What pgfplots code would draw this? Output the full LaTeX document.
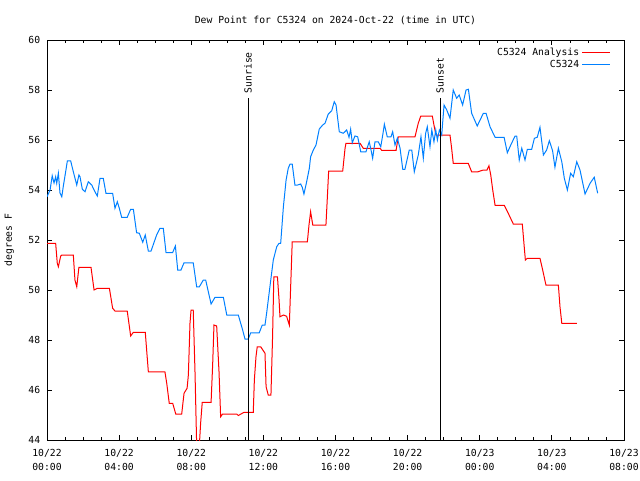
\documentclass[border=0pt]{standalone}
\usepackage{fontspec}
\setmainfont{DejaVu Sans Mono}
\usepackage{pgfplots}
\pgfplotsset{compat=1.18}
\definecolor{cred}{RGB}{255,0,0}
\definecolor{cblue}{RGB}{0,128,255}
\begin{document}
\fontsize{7.3pt}{10.5pt}\selectfont
\begin{tikzpicture}
\path[use as bounding box] (0,0) rectangle (480pt,360pt);
\begin{axis}[
  at={(35.25pt,30pt)}, anchor=south west,
  width=432.75pt, height=300pt, scale only axis,
  xmin=0, xmax=32, ymin=44, ymax=60,
  xtick={0,4,...,32}, minor x tick num=3,
  xticklabels={10/22\\00:00,10/22\\04:00,10/22\\08:00,10/22\\12:00,10/22\\16:00,10/22\\20:00,10/23\\00:00,10/23\\04:00,10/23\\08:00},
  xticklabel style={align=center, font=\fontsize{7.3pt}{10.5pt}\selectfont, yshift=-4.5pt},
  ytick={44,46,...,60},
  yticklabel style={xshift=-2.5pt},
  /pgf/number format/assume math mode=true,
  tick align=inside,
  major tick length=3.75pt, minor tick length=2pt,
  tick style={black, line width=0.6pt},
  axis line style={line width=0.75pt},
  every axis plot/.append style={line width=0.75pt},
  legend style={draw=none, fill=none, at={(0.98,0.99)}, anchor=north east, row sep=-1.5pt, inner sep=1pt},
  legend cell align=right,
  legend plot pos=right,
  legend image code/.code={\draw[#1] (0pt,0pt) -- (21pt,0pt);},
]
\addplot[cred] coordinates {
(0,51.87) (0.48,51.87) (0.57,51.07) (0.63,50.93) (0.76,51.36) (0.83,51.4) (1.46,51.4)
(1.55,50.4) (1.65,50.13) (1.77,50.91) (2.44,50.91) (2.61,50.0) (2.79,50.07) (3.46,50.07)
(3.64,49.27) (3.77,49.16) (4.45,49.16) (4.64,48.16) (4.79,48.31) (5.45,48.31) (5.62,46.73)
(6.54,46.73) (6.64,46.27) (6.78,45.47) (6.97,45.47) (7.14,45.04) (7.47,45.04) (7.60,45.87)
(7.77,46.07) (7.84,46.6) (7.93,48.67) (7.99,49.2) (8.11,49.2) (8.21,46.67) (8.30,43.8)
(8.45,43.8) (8.52,44.67) (8.61,45.51) (9.10,45.51) (9.19,47.07) (9.26,48.6) (9.41,48.56)
(9.54,46.73) (9.63,44.93) (9.74,45.04) (10.52,45.04) (10.61,44.98) (10.93,45.11) (11.44,45.11)
(11.50,46.4) (11.59,47.33) (11.66,47.73) (11.85,47.73) (12.09,47.47) (12.15,46.13) (12.27,45.8)
(12.42,45.8) (12.51,48.13) (12.58,50.53) (12.78,50.53) (12.87,49.6) (12.92,48.93) (13.11,49.0)
(13.29,48.95) (13.38,48.73) (13.44,48.6) (13.52,50.27) (13.60,51.93) (14.44,51.93) (14.53,52.6)
(14.62,53.13) (14.74,52.6) (15.47,52.6) (15.55,53.73) (15.62,54.76) (16.40,54.76) (16.53,55.67)
(16.58,55.87) (17.36,55.87) (17.54,55.67) (18.47,55.67) (18.56,55.59) (19.36,55.59) (19.48,56.13)
(20.41,56.13) (20.59,56.67) (20.73,56.96) (21.37,56.96) (21.46,56.6) (21.57,56.2) (22.35,56.2)
(22.44,55.67) (22.53,55.07) (23.36,55.07) (23.55,54.73) (23.90,54.73) (24.20,54.8) (24.40,54.8)
(24.51,54.97) (24.61,54.6) (24.72,54.0) (24.85,53.39) (25.36,53.39) (25.58,53.07) (25.86,52.64)
(26.36,52.64) (26.45,51.87) (26.53,51.2) (26.64,51.27) (27.34,51.27) (27.49,50.8) (27.67,50.2)
(28.36,50.2) (28.45,49.33) (28.55,48.67) (29.38,48.67)
};
\addlegendentry{C5324 Analysis}
\addplot[cblue] coordinates {
(0,53.73) (0.17,54.0) (0.29,54.57) (0.39,54.28) (0.48,54.53) (0.54,54.27) (0.63,54.67)
(0.72,53.88) (0.82,53.73) (0.90,54.13) (1.05,54.8) (1.13,55.17) (1.31,55.17) (1.46,54.73)
(1.65,54.2) (1.77,54.6) (1.83,54.53) (1.96,54.03) (2.11,53.93) (2.29,54.33) (2.48,54.2)
(2.66,53.93) (2.79,53.76) (2.94,54.47) (3.12,54.47) (3.27,53.87) (3.64,53.87) (3.77,53.27)
(3.90,53.53) (4.01,53.27) (4.14,52.91) (4.45,52.91) (4.64,53.23) (4.79,53.23) (4.97,52.29)
(5.12,52.27) (5.31,51.91) (5.45,52.2) (5.62,51.56) (5.77,51.56) (6.08,52.2) (6.27,52.47)
(6.45,52.47) (6.60,51.5) (6.97,51.5) (7.12,51.76) (7.25,50.8) (7.43,50.8) (7.60,51.09)
(8.11,51.09) (8.30,50.13) (8.45,50.13) (8.67,50.4) (8.80,50.4) (9.10,49.44) (9.32,49.71)
(9.78,49.71) (9.97,49.0) (10.61,49.0) (10.85,48.4) (10.98,48.04) (11.16,48.04) (11.30,48.29)
(11.77,48.29) (11.94,48.6) (12.09,48.6) (12.18,49.07) (12.41,50.4) (12.55,51.2) (12.74,51.73)
(12.87,51.87) (12.96,51.87) (13.11,53.33) (13.26,54.4) (13.38,54.87) (13.48,55.04) (13.60,55.04)
(13.75,54.2) (13.90,54.2) (14.07,54.24) (14.16,54.1) (14.25,53.84) (14.40,54.33) (14.55,54.87)
(14.62,55.33) (14.77,55.6) (14.92,55.8) (15.10,56.44) (15.29,56.6) (15.42,56.67) (15.60,57.04)
(15.79,57.17) (15.93,57.53) (16.03,57.4) (16.21,56.33) (16.43,56.27) (16.62,56.4) (16.75,56.11)
(16.84,56.43) (16.93,55.89) (17.08,56.16) (17.23,56.13) (17.40,55.53) (17.69,55.53) (17.87,55.93)
(17.97,55.6) (18.06,55.27) (18.19,55.93) (18.37,55.93) (18.51,55.73) (18.62,56.2) (18.71,56.63)
(18.87,56.13) (19.08,56.13) (19.17,56.33) (19.30,55.8) (19.43,56.07) (19.58,55.67) (19.73,54.83)
(19.85,54.83) (20.09,55.6) (20.23,55.6) (20.37,54.73) (20.59,55.4) (20.74,56.13) (20.87,55.27)
(21.00,56.27) (21.09,56.53) (21.24,55.73) (21.34,56.4) (21.46,55.93) (21.56,56.4) (21.65,56.0)
(21.76,56.4) (21.89,56.2) (22.02,57.4) (22.17,57.2) (22.35,56.87) (22.53,58.0) (22.72,57.67)
(22.86,57.8) (23.05,57.4) (23.24,58.0) (23.37,58.03) (23.55,57.07) (23.86,56.56) (24.20,57.07)
(24.35,57.07) (24.57,56.53) (24.85,56.11) (25.35,56.11) (25.53,55.49) (25.72,55.8) (25.96,56.16)
(26.05,56.16) (26.19,55.2) (26.33,55.67) (26.51,55.2) (26.64,55.63) (26.88,55.63) (27.03,56.07)
(27.19,56.11) (27.34,56.51) (27.53,55.4) (27.71,55.6) (27.86,55.97) (28.04,55.57) (28.17,54.91)
(28.36,55.67) (28.55,55.13) (28.69,54.47) (28.86,54.0) (29.04,54.67) (29.19,54.53) (29.38,55.13)
(29.56,54.8) (29.84,53.84) (30.12,54.27) (30.35,54.51) (30.54,53.87)
};
\addlegendentry{C5324}
\addplot[black, line width=0.75pt, forget plot] coordinates {(11.15,44) (11.15,57.7)};
\addplot[black, line width=0.75pt, forget plot] coordinates {(21.80,44) (21.80,57.7)};
\node[rotate=90, anchor=west, inner sep=3pt] at (axis cs:11.15,57.7) {Sunrise};
\node[rotate=90, anchor=west, inner sep=3pt] at (axis cs:21.80,57.7) {Sunset};
\end{axis}
\node at (251.6pt,345pt) {Dew Point for C5324 on 2024-Oct-22 (time in UTC)};
\node[rotate=90] at (7pt,180pt) {degrees F};
\end{tikzpicture}
\end{document}
